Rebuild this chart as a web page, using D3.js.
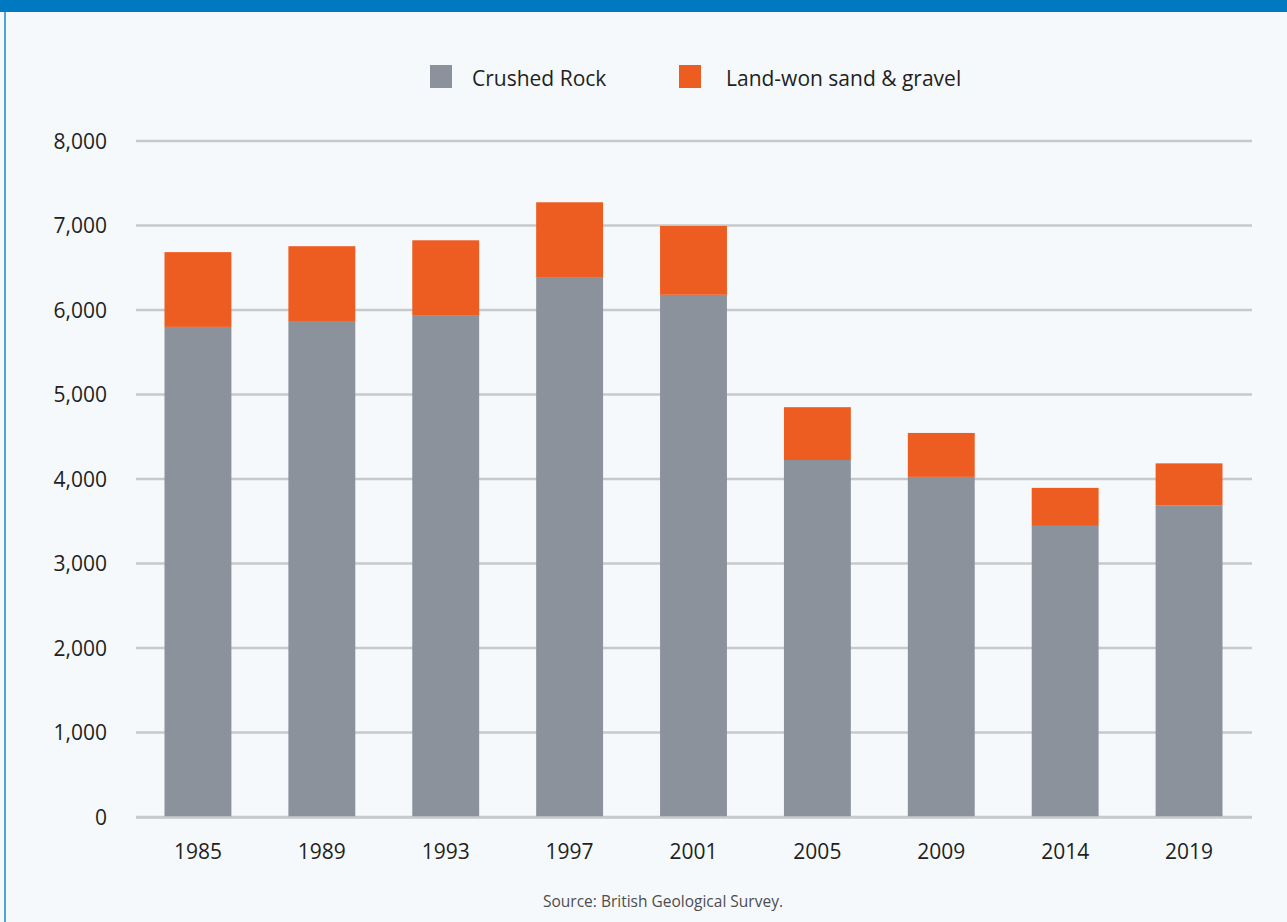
<!DOCTYPE html>
<html>
<head>
<meta charset="utf-8">
<script src="https://cdn.jsdelivr.net/npm/d3@7"></script>
<style>
  html, body { margin: 0; padding: 0; background: #f5f9fc; }
  svg { display: block; font-family: "Open Sans", "Noto Sans", sans-serif; }
</style>
</head>
<body>
<svg></svg>
<script>
// aggregates production, thousand tonnes
let years = ["1985", "1989", "1993", "1997", "2001", "2005", "2009", "2014", "2019"]
let crushedRock = [5800, 5870, 5940, 6390, 6180, 4225, 4025, 3445, 3690]
let sandGravel = [885, 885, 885, 885, 815, 625, 520, 450, 495]
let seriesNames = ["Crushed Rock", "Land-won sand & gravel"]
let yTicks = [0, 1000, 2000, 3000, 4000, 5000, 6000, 7000, 8000]

let width = 1287
let height = 922
let colors = ["#8c929c", "#ed5d22"]

let svg = d3.select("svg")
    .attr("width", width)
    .attr("height", height)

// page frame
svg.append("rect")
    .attr("width", width).attr("height", height)
    .attr("fill", "#f5f9fc")
svg.append("rect")
    .attr("x", 0).attr("y", 0)
    .attr("width", width).attr("height", 12)
    .attr("fill", "#0079c1")
svg.append("rect")
    .attr("x", 4).attr("y", 12)
    .attr("width", 2).attr("height", height - 12)
    .attr("fill", "#4aa6df")

let x = d3.scaleBand()
    .domain(years)
    .range([136, 1251])
    .paddingInner(0.46)
    .paddingOuter(0.23)

let y = d3.scaleLinear()
    .domain([0, 8000])
    .range([817, 141])

// gridlines
svg.append("g")
    .selectAll("line")
    .data(yTicks)
    .enter()
    .append("line")
    .attr("x1", 136)
    .attr("x2", 1252)
    .attr("y1", (d) => y(d))
    .attr("y2", (d) => y(d))
    .attr("stroke", "#c8c9cb")
    .attr("stroke-width", 2.5)

// y labels
svg.append("g")
    .selectAll("text")
    .data(yTicks)
    .enter()
    .append("text")
    .attr("x", 107)
    .attr("y", (d) => y(d))
    .attr("dy", "0.36em")
    .attr("text-anchor", "end")
    .attr("fill", "#231f20")
    .style("font-size", "21px")
    .text((d) => d3.format(",")(d))

// stacked bars
let rows = years.map((yr, i) => ({ year: yr, rock: crushedRock[i], sand: sandGravel[i] }))
let stacked = d3.stack().keys(["rock", "sand"])(rows)

svg.append("g")
    .selectAll("g")
    .data(stacked)
    .enter()
    .append("g")
    .attr("fill", (d, i) => colors[i])
    .selectAll("rect")
    .data((d) => d)
    .enter()
    .append("rect")
    .attr("x", (d) => x(d.data.year))
    .attr("width", x.bandwidth())
    .attr("y", (d) => y(d[1]))
    .attr("height", (d) => y(d[0]) - y(d[1]))

// baseline over bar bottoms
svg.append("line")
    .attr("x1", 136).attr("x2", 1252)
    .attr("y1", y(0) + 0.5).attr("y2", y(0) + 0.5)
    .attr("stroke", "#c8c9cb")
    .attr("stroke-width", 2.5)

// x labels
svg.append("g")
    .selectAll("text")
    .data(years)
    .enter()
    .append("text")
    .attr("x", (d) => x(d) + x.bandwidth() / 2)
    .attr("y", 859)
    .attr("text-anchor", "middle")
    .attr("fill", "#231f20")
    .style("font-size", "21px")
    .text((d) => d)

// legend
let legendX = [430, 679]
let legend = svg.append("g")
    .selectAll("g")
    .data(seriesNames)
    .enter()
    .append("g")
    .attr("transform", (d, i) => "translate(" + legendX[i] + ",65)")
legend.append("rect")
    .attr("width", 22)
    .attr("height", 23)
    .attr("fill", (d, i) => colors[i])
legend.append("text")
    .attr("x", (d, i) => i == 0 ? 42 : 47)
    .attr("y", 21)
    .attr("fill", "#231f20")
    .style("font-size", "21px")
    .text((d) => d)

// source
svg.append("text")
    .attr("x", 663)
    .attr("y", 907)
    .attr("text-anchor", "middle")
    .attr("fill", "#4d4d4f")
    .style("font-size", "15.5px")
    .text("Source: British Geological Survey.")
</script>
</body>
</html>
